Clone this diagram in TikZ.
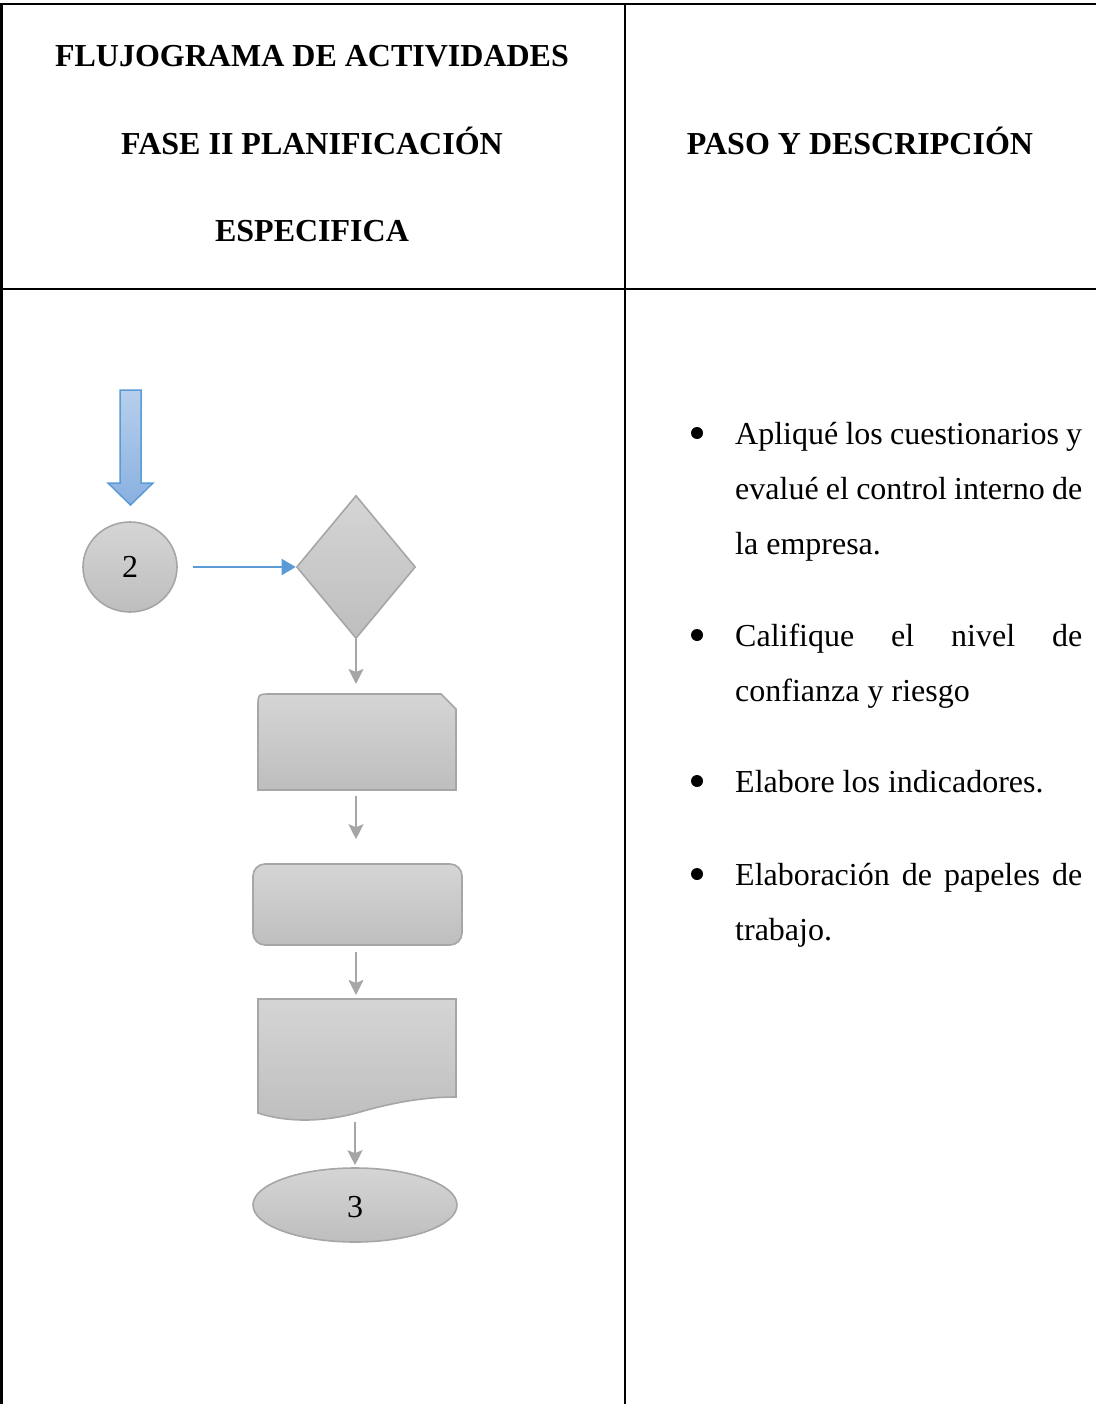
\documentclass[tikz,border=0pt]{standalone}
\usepackage{fontspec}
\setmainfont{Liberation Serif}
\usetikzlibrary{shapes.geometric,arrows.meta}
\definecolor{shtop}{HTML}{D5D5D5}
\definecolor{shbot}{HTML}{BEBEBE}
\definecolor{shline}{HTML}{A6A6A6}
\definecolor{bluel}{HTML}{5B9BD5}
\definecolor{bluetop}{HTML}{B7CFEC}
\definecolor{bluebot}{HTML}{89B0E0}
\tikzset{
  gshape/.style={draw=shline, line width=1.6pt, top color=shtop, bottom color=shbot},
  ghost/.style={inner sep=0pt, outer sep=0pt, draw=none},
  hdr/.style={font=\fontsize{32}{36}\selectfont\bfseries, inner sep=0pt, anchor=base},
  body/.style={font=\fontsize{32}{36}\selectfont, inner sep=0pt, anchor=base west},
  num/.style={font=\fontsize{32}{36}\selectfont},
  bul/.style={circle, fill=black, minimum size=12pt, inner sep=0pt},
  grayarr/.style={draw=shline, line width=2.2pt, -{Stealth[length=15pt,width=15pt,inset=3pt,fill=shline]}},
  bluearr/.style={draw=bluel, line width=2pt, -{Triangle[length=14pt,width=16pt,fill=bluel]}},
  rule/.style={line width=2.4pt, black}
}
\begin{document}
\begin{tikzpicture}[x=1pt,y=-1pt]
\useasboundingbox (0,0) rectangle (1096,1404);
% table
\draw[rule] (1.5,1404) -- (1.5,4) -- (1096,4);
\draw[rule] (0,289) -- (1096,289);
\draw[line width=2pt] (625,4) -- (625,1404);
% headers
\node[hdr] (h1) at (312,67) {FLUJOGRAMA DE ACTIVIDADES};
\node[hdr] (h2) at (312,155) {FASE II PLANIFICACIÓN};
\node[hdr] (h3) at (312,242) {ESPECIFICA};
\node[hdr] (h4) at (860,155) {PASO Y DESCRIPCIÓN};
% body text
\node[bul] (b1) at (697,433) {};
\node[body] (t1a) at (735,444) {\makebox[347pt][s]{Apliqué los cuestionarios y}};
\node[body] (t1b) at (735,499) {\makebox[347pt][s]{evalué el control interno de}};
\node[body] (t1c) at (735,554) {la empresa.};
\node[bul] (b2) at (697,635) {};
\node[body] (t2a) at (735,646) {\makebox[347pt][s]{Califique el nivel de}};
\node[body] (t2b) at (735,701) {confianza y riesgo};
\node[bul] (b3) at (697,781) {};
\node[body] (t3a) at (735,792) {Elabore los indicadores.};
\node[bul] (b4) at (697,874) {};
\node[body] (t4a) at (735,885) {\makebox[347pt][s]{Elaboración de papeles de}};
\node[body] (t4b) at (735,940) {trabajo.};
% flowchart
\draw[draw=bluel, line width=1.5pt, top color=bluetop, bottom color=bluebot]
  (120,390) -- (141,390) -- (141,483) -- (153,483) -- (130.5,505) -- (108,483) -- (120,483) -- cycle;
\node[ellipse, minimum width=94pt, minimum height=90pt, gshape, num] (c2) at (130,567) {2};
\node[diamond, minimum width=119pt, minimum height=143pt, inner sep=0pt, gshape] (dia) at (356,567) {};
\node[ghost, minimum width=198pt, minimum height=96pt] (card) at (357,742) {};
\draw[gshape] (258,790) -- (258,707) .. controls (258,694) .. (271,694) -- (441,694) -- (456,709) -- (456,790) -- cycle;
\node[rectangle, rounded corners=12pt, minimum width=209pt, minimum height=81pt, gshape] (rr) at (357.5,904.5) {};
\node[ghost, minimum width=198pt, minimum height=114pt] (doc) at (357,1056) {};
\draw[gshape] (258,999) -- (456,999) -- (456,1097) .. controls (425,1097) and (395,1102) .. (360,1112) .. controls (322,1123) and (285,1122) .. (258,1113) -- cycle;
\node[ellipse, minimum width=204pt, minimum height=74pt, gshape, num, text depth=0pt] (e3) at (355,1205) {\raisebox{-3pt}{3}};
% connectors
\draw[bluearr, shorten <=15pt] (c2.east) -- (dia.west);
\draw[grayarr, shorten >=10pt] (dia.south) -- (dia.south |- card.north);
\draw[grayarr, shorten <=6pt, shorten >=24pt] (dia.south |- card.south) -- (dia.south |- rr.north);
\draw[grayarr, shorten <=6pt, shorten >=4pt] (dia.south |- rr.south) -- (dia.south |- doc.north);
\draw[grayarr, shorten <=9pt, shorten >=2pt] (e3.north |- doc.south) -- (e3.north);
\end{tikzpicture}
\end{document}
